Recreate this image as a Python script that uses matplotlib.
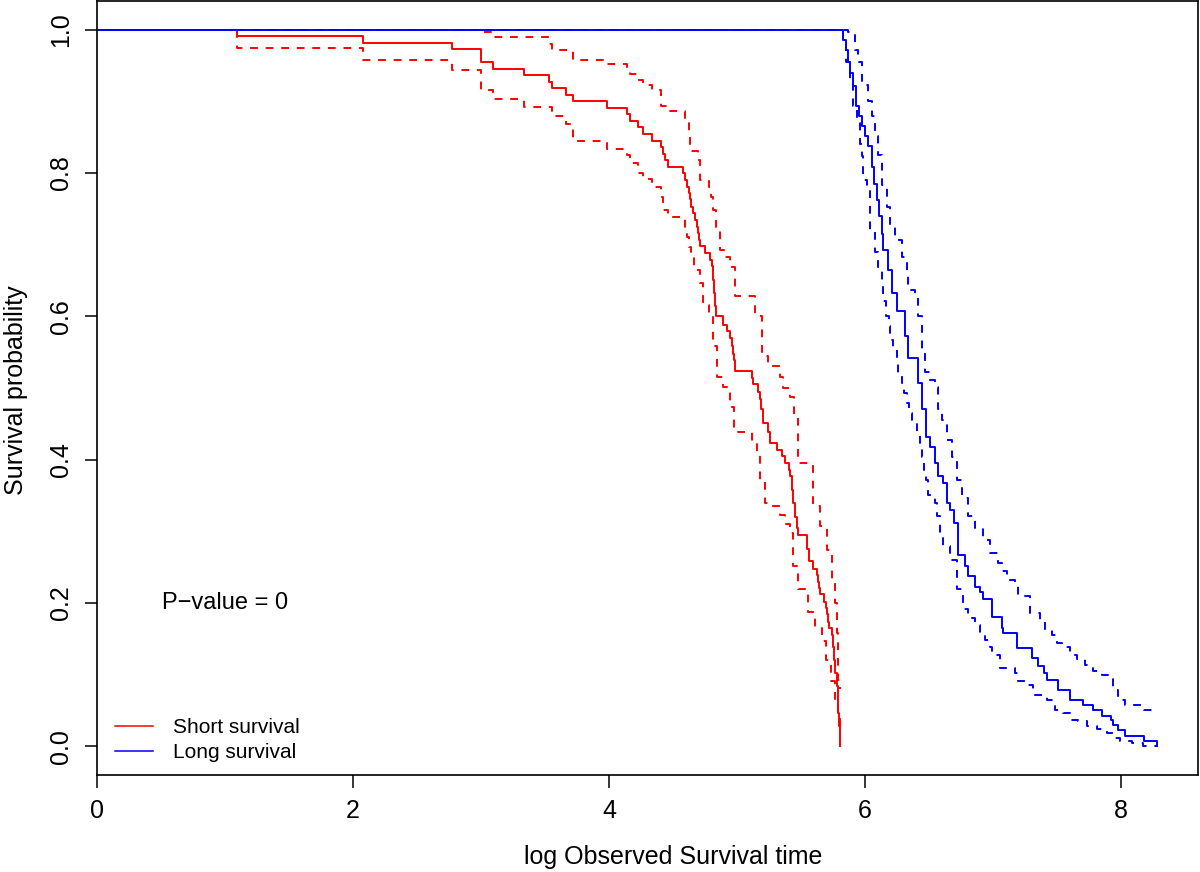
import matplotlib
matplotlib.use('Agg')
import matplotlib.pyplot as plt

plt.rcParams['font.family'] = ['Liberation Sans', 'DejaVu Sans']

# short survival group (red): KM estimate and confidence band
short_t = [0, 1.096, 2.080, 2.776, 3.000, 3.096, 3.338, 3.531, 3.557, 3.662, 3.721, 3.982, 4.138, 4.164, 4.229,
           4.268, 4.338, 4.406, 4.420, 4.434, 4.459, 4.580, 4.594, 4.607, 4.625, 4.633, 4.641, 4.656, 4.672, 4.688,
           4.695, 4.703, 4.711, 4.750, 4.789, 4.805, 4.813, 4.820, 4.828, 4.836, 4.893, 4.922, 4.945, 4.961, 4.969,
           4.977, 4.984, 5.115, 5.125, 5.166, 5.180, 5.188, 5.203, 5.245, 5.258, 5.313, 5.352, 5.375, 5.406, 5.414,
           5.427, 5.438, 5.453, 5.469, 5.479, 5.545, 5.563, 5.596, 5.625, 5.633, 5.641, 5.648, 5.680, 5.695, 5.703,
           5.711, 5.719, 5.740, 5.750, 5.758, 5.766, 5.779, 5.785, 5.789, 5.797, 5.805]
short_s = [1.0, 0.991, 0.982, 0.973, 0.955, 0.945, 0.936, 0.927, 0.918, 0.909, 0.900, 0.891, 0.882, 0.873, 0.864,
           0.855, 0.845, 0.836, 0.827, 0.818, 0.809, 0.800, 0.790, 0.781, 0.772, 0.763, 0.753, 0.744, 0.735, 0.725,
           0.716, 0.707, 0.698, 0.688, 0.679, 0.670, 0.651, 0.632, 0.614, 0.600, 0.588, 0.579, 0.570, 0.558, 0.548,
           0.539, 0.524, 0.514, 0.505, 0.495, 0.485, 0.470, 0.451, 0.439, 0.423, 0.414, 0.405, 0.395, 0.386, 0.377,
           0.358, 0.340, 0.320, 0.305, 0.295, 0.276, 0.258, 0.248, 0.239, 0.230, 0.221, 0.212, 0.202, 0.193, 0.184,
           0.174, 0.165, 0.156, 0.138, 0.121, 0.103, 0.084, 0.065, 0.047, 0.028, 0.0]

short_up_t = [0, 3.000, 3.096, 3.531, 3.557, 3.721, 3.982, 4.138, 4.164, 4.229, 4.268, 4.338, 4.406, 4.459, 4.594,
              4.625, 4.633, 4.695, 4.711, 4.781, 4.797, 4.813, 4.836, 4.867, 4.906, 4.945, 4.984, 5.141, 5.193, 5.245,
              5.336, 5.362, 5.414, 5.448, 5.479, 5.596, 5.648, 5.701, 5.740, 5.766, 5.779, 5.791, 5.805]
short_up_s = [1.0, 0.996, 0.990, 0.980, 0.972, 0.958, 0.952, 0.945, 0.938, 0.930, 0.923, 0.916, 0.894, 0.886, 0.870,
              0.855, 0.830, 0.818, 0.790, 0.781, 0.767, 0.749, 0.721, 0.693, 0.683, 0.669, 0.628, 0.600, 0.544, 0.530,
              0.516, 0.500, 0.488, 0.460, 0.395, 0.335, 0.307, 0.274, 0.232, 0.200, 0.158, 0.093, 0.080]

short_lo_t = [0, 1.096, 2.080, 2.776, 3.000, 3.096, 3.338, 3.557, 3.662, 3.721, 3.982, 4.138, 4.164, 4.229, 4.268,
              4.338, 4.406, 4.420, 4.459, 4.594, 4.607, 4.625, 4.641, 4.664, 4.711, 4.737, 4.784, 4.815, 4.841, 4.893,
              4.945, 4.979, 5.010, 5.115, 5.154, 5.180, 5.219, 5.284, 5.336, 5.375, 5.414, 5.440, 5.479, 5.557, 5.609,
              5.662, 5.695, 5.734, 5.766, 5.787, 5.805]
short_lo_s = [1.0, 0.974, 0.958, 0.943, 0.916, 0.903, 0.892, 0.880, 0.868, 0.845, 0.834, 0.825, 0.814, 0.800, 0.792,
              0.780, 0.767, 0.749, 0.738, 0.720, 0.710, 0.697, 0.683, 0.665, 0.646, 0.616, 0.604, 0.558, 0.516, 0.502,
              0.474, 0.446, 0.438, 0.423, 0.411, 0.372, 0.340, 0.335, 0.323, 0.310, 0.298, 0.251, 0.220, 0.187, 0.167,
              0.147, 0.121, 0.091, 0.063, 0.042, 0.020]

# long survival group (blue)
long_t = [0, 5.830, 5.848, 5.870, 5.883, 5.909, 5.930, 5.950, 5.974, 6.000, 6.026, 6.052, 6.070, 6.091, 6.110,
          6.130, 6.143, 6.182, 6.209, 6.248, 6.313, 6.338, 6.416, 6.443, 6.477, 6.508, 6.547, 6.573, 6.607, 6.638,
          6.664, 6.698, 6.729, 6.781, 6.807, 6.859, 6.898, 6.924, 6.990, 7.068, 7.080, 7.188, 7.302, 7.354, 7.401,
          7.420, 7.505, 7.602, 7.705, 7.784, 7.849, 7.922, 7.940, 7.979, 8.031, 8.180, 8.279]
long_s = [1.0, 0.986, 0.972, 0.955, 0.939, 0.921, 0.893, 0.879, 0.865, 0.851, 0.837, 0.809, 0.785, 0.762, 0.740,
          0.715, 0.693, 0.665, 0.632, 0.607, 0.572, 0.542, 0.507, 0.470, 0.432, 0.418, 0.395, 0.377, 0.367, 0.340,
          0.330, 0.312, 0.267, 0.251, 0.237, 0.223, 0.216, 0.205, 0.181, 0.165, 0.158, 0.137, 0.123, 0.112, 0.102,
          0.093, 0.079, 0.065, 0.058, 0.051, 0.043, 0.037, 0.030, 0.023, 0.014, 0.008, 0.0]

long_up_t = [0, 5.870, 5.922, 5.948, 5.974, 6.026, 6.052, 6.078, 6.104, 6.130, 6.169, 6.195, 6.234, 6.287, 6.326,
             6.338, 6.391, 6.416, 6.443, 6.469, 6.508, 6.547, 6.573, 6.599, 6.638, 6.677, 6.716, 6.755, 6.807, 6.859,
             6.924, 6.977, 7.041, 7.068, 7.107, 7.172, 7.198, 7.289, 7.367, 7.406, 7.459, 7.498, 7.537, 7.602, 7.654,
             7.719, 7.784, 7.849, 7.901, 7.940, 7.979, 8.031, 8.180, 8.279]
long_up_s = [1.0, 0.996, 0.972, 0.955, 0.923, 0.900, 0.880, 0.851, 0.825, 0.783, 0.753, 0.728, 0.707, 0.683, 0.656,
             0.637, 0.630, 0.600, 0.553, 0.523, 0.511, 0.502, 0.470, 0.456, 0.428, 0.404, 0.372, 0.346, 0.321, 0.305,
             0.288, 0.270, 0.256, 0.244, 0.232, 0.225, 0.210, 0.186, 0.174, 0.163, 0.156, 0.144, 0.139, 0.128, 0.122,
             0.114, 0.105, 0.100, 0.094, 0.079, 0.065, 0.058, 0.051, 0.051]

long_lo_t = [0, 5.830, 5.852, 5.883, 5.909, 5.935, 5.961, 5.974, 5.987, 6.013, 6.040, 6.078, 6.104, 6.130, 6.143,
             6.162, 6.188, 6.195, 6.221, 6.248, 6.260, 6.287, 6.307, 6.326, 6.346, 6.365, 6.404, 6.430, 6.443, 6.461,
             6.477, 6.495, 6.547, 6.560, 6.586, 6.612, 6.664, 6.716, 6.768, 6.807, 6.859, 6.898, 6.938, 6.977, 6.990,
             7.055, 7.172, 7.198, 7.276, 7.315, 7.420, 7.484, 7.549, 7.602, 7.666, 7.732, 7.810, 7.888, 7.940, 7.992,
             8.083, 8.174, 8.279]
long_lo_s = [1.0, 0.980, 0.955, 0.925, 0.893, 0.870, 0.840, 0.823, 0.790, 0.776, 0.720, 0.690, 0.669, 0.642, 0.621,
             0.600, 0.586, 0.567, 0.553, 0.535, 0.521, 0.507, 0.493, 0.479, 0.465, 0.456, 0.439, 0.423, 0.404, 0.386,
             0.372, 0.351, 0.340, 0.321, 0.298, 0.279, 0.260, 0.219, 0.191, 0.179, 0.170, 0.158, 0.149, 0.139, 0.128,
             0.109, 0.102, 0.091, 0.086, 0.072, 0.065, 0.051, 0.047, 0.037, 0.035, 0.028, 0.024, 0.019, 0.012, 0.007,
             0.005, 0.001, 0.001]

x_ticks = [0, 2, 4, 6, 8]
y_ticks = [0.0, 0.2, 0.4, 0.6, 0.8, 1.0]
y_tick_labels = ['0.0', '0.2', '0.4', '0.6', '0.8', '1.0']

fig = plt.figure(figsize=(12, 8.72), dpi=100)
ax = fig.add_axes([0.0808, 0.1112, 0.9175, 0.8877])

lw = 1.4
dash = (0, (4, 4))

ax.step(short_up_t, short_up_s, where='post', color='red', lw=lw, linestyle=dash)
ax.step(short_lo_t, short_lo_s, where='post', color='red', lw=lw, linestyle=dash)
h1, = ax.step(short_t, short_s, where='post', color='red', lw=lw)
ax.step(long_up_t, long_up_s, where='post', color='blue', lw=lw, linestyle=dash)
ax.step(long_lo_t, long_lo_s, where='post', color='blue', lw=lw, linestyle=dash)
h2, = ax.step(long_t, long_s, where='post', color='blue', lw=lw)

ax.set_xlim(0, 8.6)
ax.set_ylim(-0.04, 1.04)
ax.set_xticks(x_ticks)
ax.set_yticks(y_ticks)
ax.set_yticklabels(y_tick_labels, rotation=90, va='center')
ax.tick_params(axis='both', direction='out', length=9, width=1.1, labelsize=18, color='black')
ax.tick_params(axis='x', pad=8)
ax.tick_params(axis='y', pad=8)
for sp in ax.spines.values():
    sp.set_linewidth(1.2)
    sp.set_color('black')

ax.text(1.0, 0.2, 'P\u2212value = 0', ha='center', va='center', fontsize=17)

leg = ax.legend([h1, h2], ['Short survival', 'Long survival'], loc='lower left',
                bbox_to_anchor=(0.0163, 0.0168), frameon=False, fontsize=15,
                handlelength=1.83, handletextpad=0.95, labelspacing=0.29,
                borderpad=0, borderaxespad=0)
for line in leg.get_lines():
    line.set_linewidth(1.1)

fig.text(673 / 1200, 1 - 857 / 872, 'log Observed Survival time', ha='center', va='center', fontsize=18)
fig.text(16 / 1200, 1 - 390 / 872, 'Survival probability', ha='center', va='center', fontsize=18, rotation=90)

fig.savefig('out.png', dpi=100)
